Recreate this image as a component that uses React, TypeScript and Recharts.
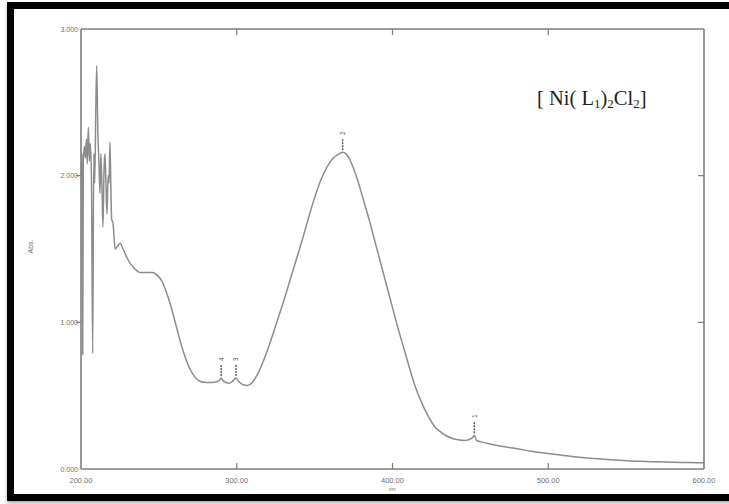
import React from 'react';
import { ComposedChart, Line, Scatter, XAxis, YAxis } from 'recharts';

// ---- data ----
const wavelengths = [
  200.3, 200.7, 201.1, 201.5, 202.2, 202.8, 203.5, 204.0, 204.7, 205.4, 206.0, 206.7, 207.5,
  208.2, 208.8, 209.5, 210.1, 210.8, 211.5, 212.2, 212.8, 213.5, 214.1, 214.8, 215.4, 216.0,
  216.7, 217.4, 218.0, 218.6, 219.2, 219.7, 220.5, 221.9, 223.5, 225.1, 227.0, 230.0, 234.0,
  238.0, 242.0, 246.0, 249.0, 252.0, 255.0, 258.0, 261.0, 264.0, 267.0, 270.0, 273.0, 276.0,
  280.0, 284.0, 287.0, 289.0, 290.0, 291.0, 293.0, 295.0, 297.0, 299.5, 301.0, 304.0, 307.0,
  310.0, 314.0, 318.0, 322.0, 326.0, 330.0, 334.0, 338.0, 342.0, 346.0, 350.0, 354.0, 358.0,
  362.0, 366.0, 368.0, 370.0, 373.0, 376.0, 379.0, 382.0, 385.0, 388.0, 391.0, 394.0, 397.0,
  400.0, 403.0, 406.0, 409.0, 412.0, 415.0, 418.0, 421.0, 424.0, 427.0, 430.0, 434.0, 438.0,
  442.0, 446.0, 449.0, 451.5, 452.5, 454.0, 457.0, 462.0, 470.0, 480.0, 490.0, 500.0, 510.0,
  520.0, 530.0, 540.0, 550.0, 560.0, 570.0, 580.0, 590.0, 600.0,
];
const absorbance = [
  2.0, 2.15, 0.78, 2.1, 2.2, 2.12, 2.25, 2.08, 2.33, 2.1, 2.22, 2.0, 0.79,
  2.15, 1.95, 2.45, 2.75, 2.3, 2.1, 1.88, 2.15, 1.9, 1.65, 2.05, 2.15, 1.95,
  1.74, 2.0, 1.95, 2.23, 1.9, 1.7, 1.68, 1.5, 1.52, 1.54, 1.5, 1.43, 1.37,
  1.34, 1.34, 1.34, 1.32, 1.28, 1.2, 1.1, 0.98, 0.86, 0.76, 0.68, 0.63, 0.6,
  0.59, 0.59, 0.595, 0.605, 0.62, 0.605, 0.59, 0.585, 0.595, 0.62, 0.6, 0.575, 0.57,
  0.59, 0.66, 0.76, 0.88, 1.01, 1.14, 1.28, 1.42, 1.56, 1.71, 1.85, 1.97, 2.06,
  2.12, 2.15, 2.16, 2.15, 2.1, 2.02, 1.92, 1.81, 1.7, 1.58, 1.46, 1.34, 1.22,
  1.1, 0.98, 0.87, 0.76, 0.65, 0.55, 0.47, 0.4, 0.34, 0.29, 0.26, 0.23, 0.21,
  0.2, 0.195, 0.2, 0.215, 0.23, 0.195, 0.185, 0.172, 0.155, 0.138, 0.12, 0.105, 0.092,
  0.08, 0.071, 0.063, 0.057, 0.052, 0.049, 0.046, 0.044, 0.043,
];

const peakWavelengths = [290, 299.5, 368, 452.5];
const peakAbsorbance = [0.62, 0.62, 2.16, 0.23];
const peakLabels = ['4', '3', '2', '1'];

const xTicks = [200, 300, 400, 500, 600];
const xTickLabels = ['200.00', '300.00', '400.00', '500.00', '600.00'];
const yTicks = [0, 1, 2, 3];
const yTickLabels = ['0.000', '1.000', '2.000', '3.000'];

const spectrum = wavelengths.map((nm, i) => ({ nm, abs: absorbance[i] }));
const peaks = peakWavelengths.map((nm, i) => ({ nm, abs: peakAbsorbance[i], label: peakLabels[i] }));

const AXIS = '#7d7d7d';
const CURVE = '#8c8c8c';
const TEXT = '#6f6f6f';
const FONT = '"Liberation Sans", Arial, sans-serif';

const BottomTick = (props: any) => {
  const { x, y, payload } = props;
  const v = payload.value;
  const idx = xTicks.indexOf(v);
  const inner = v !== 200 && v !== 600;
  return (
    <g>
      {inner && <line x1={x} x2={x} y1={y} y2={y - 6} stroke={AXIS} strokeWidth={1.2} />}
      <text x={x} y={y + 14} textAnchor="middle" fontSize={7.5} fill={TEXT} fontFamily={FONT}>
        {xTickLabels[idx]}
      </text>
      {v === 400 && (
        <text x={x} y={y + 22} textAnchor="middle" fontSize={5} fill={TEXT} fontFamily={FONT}>
          nm
        </text>
      )}
    </g>
  );
};

const TopTick = (props: any) => {
  const { x, y, payload } = props;
  const v = payload.value;
  if (v === 200 || v === 600) return <g />;
  return <line x1={x} x2={x} y1={y} y2={y + 6} stroke={AXIS} strokeWidth={1.2} />;
};

const LeftTick = (props: any) => {
  const { x, y, payload } = props;
  const v = payload.value;
  const idx = yTicks.indexOf(v);
  return (
    <g>
      {v !== 0 && v !== 3 && <line x1={x} x2={x - 5} y1={y} y2={y} stroke={AXIS} strokeWidth={1.2} />}
      <text x={x - 3} y={y + 2.5} textAnchor="end" fontSize={7} fill={TEXT} fontFamily={FONT}>
        {yTickLabels[idx]}
      </text>
    </g>
  );
};

const RightTick = (props: any) => {
  const { x, y, payload } = props;
  const v = payload.value;
  if (v === 0 || v === 3) return <g />;
  return <line x1={x} x2={x - 6} y1={y} y2={y} stroke={AXIS} strokeWidth={1.2} />;
};

const PeakMarker = (props: any) => {
  const { cx, cy, payload } = props;
  if (cx == null || cy == null) return <g />;
  return (
    <g>
      <line x1={cx} x2={cx} y1={cy - 2} y2={cy - 13} stroke="#555" strokeWidth={1.4} strokeDasharray="2 1" />
      <text
        x={cx}
        y={cy - 19}
        textAnchor="middle"
        fontSize={6.5}
        fill="#555"
        fontFamily={FONT}
        transform={`rotate(-90 ${cx} ${cy - 19})`}
        dominantBaseline="central"
      >
        {payload.label}
      </text>
    </g>
  );
};

export default function App() {
  return (
    <div
      style={{
        position: 'absolute',
        left: 0,
        top: 0,
        width: 729,
        height: 504,
        overflow: 'hidden',
        background: '#ffffff',
      }}
    >
      <ComposedChart
        width={729}
        height={504}
        data={spectrum}
        margin={{ top: 24, right: 20, bottom: 15, left: 21 }}
      >
        <XAxis
          xAxisId="bottom"
          dataKey="nm"
          type="number"
          domain={[200, 600]}
          ticks={xTicks}
          interval={0}
          height={20}
          tickSize={0}
          tickMargin={0}
          tickLine={false}
          axisLine={{ stroke: AXIS, strokeWidth: 1.6 }}
          tick={<BottomTick />}
        />
        <XAxis
          xAxisId="top"
          orientation="top"
          dataKey="nm"
          type="number"
          domain={[200, 600]}
          ticks={xTicks}
          interval={0}
          height={5}
          tickSize={0}
          tickMargin={0}
          tickLine={false}
          axisLine={{ stroke: AXIS, strokeWidth: 1.6 }}
          tick={<TopTick />}
        />
        <YAxis
          yAxisId="left"
          type="number"
          domain={[0, 3]}
          ticks={yTicks}
          interval={0}
          width={60}
          tickSize={0}
          tickMargin={0}
          tickLine={false}
          axisLine={{ stroke: AXIS, strokeWidth: 1.6 }}
          tick={<LeftTick />}
        />
        <YAxis
          yAxisId="right"
          orientation="right"
          type="number"
          domain={[0, 3]}
          ticks={yTicks}
          interval={0}
          width={5}
          tickSize={0}
          tickMargin={0}
          tickLine={false}
          axisLine={{ stroke: AXIS, strokeWidth: 1.6 }}
          tick={<RightTick />}
        />
        <Line
          xAxisId="bottom"
          yAxisId="left"
          dataKey="abs"
          type="monotone"
          stroke={CURVE}
          strokeWidth={1.5}
          dot={false}
          activeDot={false}
          isAnimationActive={false}
        />
        <Line
          xAxisId="top"
          yAxisId="right"
          dataKey="abs"
          type="monotone"
          stroke="none"
          dot={false}
          activeDot={false}
          isAnimationActive={false}
        />
        <Scatter
          xAxisId="bottom"
          yAxisId="left"
          data={peaks}
          dataKey="abs"
          shape={<PeakMarker />}
          isAnimationActive={false}
        />
      </ComposedChart>

      <div
        style={{
          position: 'absolute',
          left: 18,
          top: 243,
          width: 24,
          textAlign: 'center',
          transform: 'rotate(-90deg)',
          fontFamily: FONT,
          fontSize: 7,
          color: TEXT,
        }}
      >
        Abs.
      </div>

      <div
        style={{
          position: 'absolute',
          left: 537,
          top: 86,
          fontFamily: '"Liberation Serif", "Times New Roman", serif',
          fontSize: 20.5,
          color: '#1e1e1e',
          whiteSpace: 'nowrap',
          lineHeight: '24px',
        }}
      >
        [ Ni( L<sub style={{ fontSize: 13, verticalAlign: '-3px' }}>1</sub>)
        <sub style={{ fontSize: 13, verticalAlign: '-3px' }}>2</sub>Cl
        <sub style={{ fontSize: 13, verticalAlign: '-3px' }}>2</sub>]
      </div>

      <div
        style={{
          position: 'absolute',
          left: 7,
          top: 2,
          width: 760,
          height: 499,
          boxSizing: 'border-box',
          borderTop: '7px solid #000',
          borderLeft: '7px solid #000',
          borderBottom: '7px solid #000',
          boxShadow: '0 2px 3px rgba(0,0,0,0.35)',
          pointerEvents: 'none',
        }}
      />
    </div>
  );
}
